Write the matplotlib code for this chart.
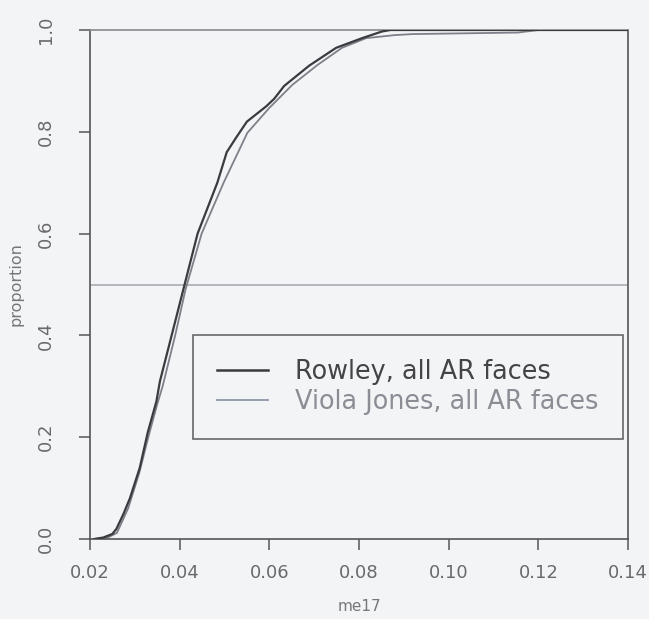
import matplotlib
matplotlib.use("Agg")
import matplotlib.pyplot as plt
from matplotlib.lines import Line2D

rowley_x = [0.021, 0.023, 0.025, 0.0259, 0.0275, 0.0289, 0.0311, 0.0329, 0.0348, 0.0356,
            0.0385, 0.0411, 0.0440, 0.0484, 0.0505, 0.0527, 0.0550, 0.0593, 0.0611, 0.0633,
            0.0689, 0.0749, 0.0807, 0.0851, 0.0870, 0.14]
rowley_y = [0.0, 0.003, 0.01, 0.02, 0.05, 0.08, 0.14, 0.21, 0.27, 0.31,
            0.41, 0.50, 0.60, 0.70, 0.76, 0.79, 0.82, 0.85, 0.865, 0.89,
            0.93, 0.965, 0.984, 0.997, 1.0, 1.0]

viola_x = [0.021, 0.024, 0.026, 0.0285, 0.031, 0.033, 0.035, 0.0362, 0.039, 0.0413,
           0.0449, 0.0498, 0.0551, 0.060, 0.0651, 0.0707, 0.0762, 0.0816, 0.088, 0.092,
           0.1155, 0.120, 0.14]
viola_y = [0.0, 0.003, 0.012, 0.06, 0.13, 0.20, 0.265, 0.30, 0.40, 0.49,
           0.60, 0.70, 0.798, 0.847, 0.892, 0.931, 0.965, 0.984, 0.99, 0.992,
           0.995, 1.0, 1.0]

series_labels = ["Rowley, all AR faces", "Viola Jones, all AR faces"]
x_ticks = [0.02, 0.04, 0.06, 0.08, 0.10, 0.12, 0.14]
x_tick_labels = ["0.02", "0.04", "0.06", "0.08", "0.10", "0.12", "0.14"]
y_ticks = [0.0, 0.2, 0.4, 0.6, 0.8, 1.0]
y_tick_labels = ["0.0", "0.2", "0.4", "0.6", "0.8", "1.0"]

plt.rcParams['font.family'] = ['DejaVu Sans']

bg = '#f3f4f6'
fig = plt.figure(figsize=(6.49, 6.19), dpi=100, facecolor=bg)
ax = fig.add_axes([90/649, 1 - 539/619, (628-90)/649, (539-30)/619])
ax.set_facecolor(bg)

ax.axhline(0.5, color='#a8abb0', lw=1.2, zorder=1)
ax.plot(viola_x, viola_y, color='#7d8088', lw=1.3, zorder=2)
ax.plot(rowley_x, rowley_y, color='#3a3b3f', lw=1.6, zorder=3)

ax.set_xlim(0.02, 0.14)
ax.set_ylim(0, 1)
ax.set_xticks(x_ticks)
ax.set_xticklabels(x_tick_labels)
ax.set_yticks(y_ticks)
ax.set_yticklabels(y_tick_labels, rotation=90, va='center')
ax.tick_params(axis='both', direction='out', length=8, width=1.1, color='#555',
               labelsize=13, labelcolor='#6a6a6a')
ax.tick_params(axis='x', pad=10)
ax.tick_params(axis='y', pad=17)
for s in ax.spines.values():
    s.set_color('#555')
    s.set_linewidth(1.2)
ax.spines['top'].set_color('#888')

ax.set_xlabel('me17', fontsize=11, color='#777', labelpad=12)
ax.set_ylabel('proportion', fontsize=11.5, color='#777', labelpad=10)

handles = [Line2D([], [], color='#3a3b3f', lw=1.8), Line2D([], [], color='#8d95a8', lw=1.3)]
leg = ax.legend(handles, series_labels, loc='upper left',
                bbox_to_anchor=(193/649, 1 - 335/619), bbox_transform=fig.transFigure,
                fontsize=18.4, frameon=True, fancybox=False, handlelength=2.0,
                borderpad=0.95, labelspacing=0.15, handletextpad=1.05, borderaxespad=0)
leg.get_frame().set_edgecolor('#444')
leg.get_frame().set_facecolor(bg)
leg.get_frame().set_linewidth(1.2)
leg.get_texts()[0].set_color('#444')
leg.get_texts()[1].set_color('#8a8d94')

fig.savefig('out.png', dpi=100, facecolor=bg)
